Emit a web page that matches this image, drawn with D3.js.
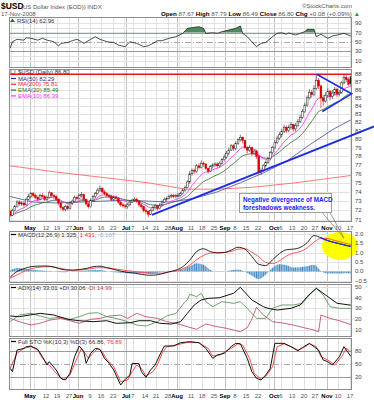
<!DOCTYPE html>
<html>
<head>
<meta charset="utf-8">
<title>$USD</title>
<script src="https://cdn.jsdelivr.net/npm/d3@7"></script>
<style>
  body { margin: 0; background: #fff; }
  text { font-family: "Liberation Sans", Arial, sans-serif; }
</style>
</head>
<body>
<svg id="chart" width="374" height="400"></svg>
<script>

// daily sessions 18-Apr-2008 .. 17-Nov-2008 (149 bars)
var closes = [
    71.5, 72.0, 72.4, 72.9, 72.7, 72.8, 72.6, 73.2, 73.5, 73.8,
    73.6, 73.4, 73.2, 73.6, 73.5, 73.2, 73.4, 73.9, 73.6, 73.5,
    73.2, 72.8, 72.3, 72.1, 72.4, 72.2, 72.8, 73.0, 73.4, 73.3,
    73.6, 73.7, 73.2, 72.7, 72.4, 73.1, 73.5, 73.8, 74.2, 74.4,
    74.0, 73.8, 73.6, 73.5, 73.2, 73.4, 73.3, 72.9, 72.6, 72.5,
    72.4, 72.6, 72.9, 73.1, 73.2, 73.0, 72.6, 72.4, 72.0, 71.9,
    71.6, 72.0, 72.3, 72.5, 72.2, 72.6, 72.9, 73.2, 73.3, 73.5,
    73.6, 73.5, 73.6, 73.6, 73.8, 74.2, 74.5, 75.1, 76.0, 76.4,
    76.3, 76.9, 76.7, 77.2, 77.1, 76.6, 76.3, 76.8, 77.0, 77.1,
    76.9, 77.2, 77.6, 77.9, 78.3, 78.7, 79.2, 78.9, 79.5, 79.9,
    80.2, 79.8, 79.0, 78.7, 79.0, 78.3, 78.6, 78.0, 76.2, 76.4,
    76.9, 77.3, 77.7, 78.4, 79.0, 79.6, 80.1, 80.5, 80.9, 81.4,
    81.0, 81.4, 81.7, 81.2, 81.6, 82.1, 82.6, 83.3, 84.1, 85.0,
    85.7, 85.4, 86.2, 87.2, 86.5, 85.0, 84.6, 85.3, 85.8, 85.2,
    85.6, 86.1, 85.5, 85.7, 86.9, 87.6, 87.3, 86.72, 86.80
];
var opens = [
    71.9, 71.5, 72.0, 72.4, 72.9, 72.7, 72.8, 72.6, 73.2, 73.5,
    73.8, 73.6, 73.4, 73.2, 73.6, 73.5, 73.2, 73.4, 73.9, 73.6,
    73.5, 73.2, 72.8, 72.3, 72.1, 72.4, 72.2, 72.8, 73.0, 73.4,
    73.3, 73.6, 73.7, 73.2, 72.7, 72.4, 73.1, 73.5, 73.8, 74.2,
    74.4, 74.0, 73.8, 73.6, 73.5, 73.2, 73.4, 73.3, 72.9, 72.6,
    72.5, 72.4, 72.6, 72.9, 73.1, 73.2, 73.0, 72.6, 72.4, 72.0,
    71.9, 71.6, 72.0, 72.3, 72.5, 72.2, 72.6, 72.9, 73.2, 73.3,
    73.5, 73.6, 73.5, 73.6, 73.6, 73.8, 74.2, 74.5, 75.1, 76.0,
    76.4, 76.3, 76.9, 76.7, 77.2, 77.1, 76.6, 76.3, 76.8, 77.0,
    77.1, 76.9, 77.2, 77.6, 77.9, 78.3, 78.7, 79.2, 78.9, 79.5,
    79.9, 80.2, 79.8, 79.0, 78.7, 79.0, 78.3, 78.6, 78.0, 76.2,
    76.4, 76.9, 77.3, 77.7, 78.4, 79.0, 79.6, 80.1, 80.5, 80.9,
    81.4, 81.0, 81.4, 81.7, 81.2, 81.6, 82.1, 82.6, 83.3, 84.1,
    85.0, 85.7, 85.4, 86.2, 87.2, 86.5, 85.0, 84.6, 85.3, 85.8,
    85.2, 85.6, 86.1, 85.5, 85.7, 86.9, 87.6, 87.3, 87.67
];
var highs = [
    72.1, 72.2, 72.6, 73.1, 73.1, 73.0, 73.0, 73.4, 73.8, 74.0,
    74.0, 73.8, 73.6, 73.8, 73.9, 73.7, 73.6, 74.1, 74.0, 73.8,
    73.7, 73.3, 72.9, 72.5, 72.6, 72.6, 73.0, 73.2, 73.6, 73.6,
    73.8, 74.0, 73.8, 73.3, 72.9, 73.3, 73.7, 74.0, 74.4, 74.7,
    74.5, 74.2, 74.0, 73.8, 73.7, 73.6, 73.6, 73.4, 73.0, 72.8,
    72.7, 72.8, 73.1, 73.3, 73.4, 73.4, 73.1, 72.8, 72.5, 72.2,
    72.0, 72.2, 72.5, 72.7, 72.6, 72.8, 73.1, 73.4, 73.5, 73.7,
    73.8, 73.8, 73.8, 73.9, 74.0, 74.4, 74.7, 75.3, 76.3, 76.6,
    76.6, 77.1, 77.2, 77.5, 77.4, 77.2, 76.7, 77.0, 77.2, 77.3,
    77.3, 77.4, 77.8, 78.2, 78.6, 79.0, 79.4, 79.4, 79.7, 80.1,
    80.5, 80.3, 79.9, 79.2, 79.3, 79.1, 78.8, 78.7, 78.1, 76.7,
    77.1, 77.5, 77.9, 78.6, 79.2, 79.9, 80.4, 80.8, 81.2, 81.7,
    81.6, 81.7, 82.0, 81.8, 81.9, 82.4, 82.9, 83.6, 84.4, 85.3,
    86.1, 86.0, 86.6, 88.0, 87.5, 86.7, 85.4, 85.7, 86.2, 86.0,
    86.0, 86.4, 86.3, 86.0, 87.1, 87.9, 87.9, 87.6, 87.79
];
var lows = [
    71.3, 71.4, 71.9, 72.3, 72.5, 72.5, 72.4, 72.5, 73.1, 73.3,
    73.4, 73.2, 73.0, 73.1, 73.3, 73.0, 73.0, 73.3, 73.4, 73.2,
    73.0, 72.6, 72.1, 71.9, 71.9, 72.0, 72.1, 72.6, 72.9, 73.1,
    73.2, 73.4, 73.0, 72.5, 72.2, 72.3, 73.0, 73.3, 73.7, 74.0,
    73.8, 73.6, 73.4, 73.3, 73.0, 73.0, 73.1, 72.7, 72.4, 72.3,
    72.2, 72.2, 72.5, 72.8, 72.9, 72.8, 72.4, 72.2, 71.8, 71.6,
    71.3, 71.5, 71.9, 72.1, 72.0, 72.1, 72.5, 72.8, 73.0, 73.2,
    73.3, 73.3, 73.3, 73.4, 73.5, 73.7, 74.0, 74.4, 74.9, 75.8,
    76.0, 76.1, 76.5, 76.6, 76.8, 76.4, 76.0, 76.2, 76.6, 76.8,
    76.7, 76.7, 77.0, 77.4, 77.7, 78.1, 78.6, 78.6, 78.7, 79.3,
    79.7, 79.5, 78.8, 78.3, 78.5, 78.0, 78.1, 77.7, 75.9, 75.9,
    76.2, 76.7, 77.1, 77.5, 78.2, 78.8, 79.4, 79.9, 80.2, 80.7,
    80.7, 80.8, 81.1, 80.9, 80.9, 81.4, 81.9, 82.4, 83.1, 83.9,
    84.8, 85.0, 85.2, 86.0, 86.1, 83.7, 84.0, 84.4, 85.0, 84.7,
    84.9, 85.3, 85.1, 85.2, 85.5, 86.7, 87.0, 86.5, 86.49
];

// moving averages: [session, value]
var ma50 = [[0, 73.5], [10, 72.9], [20, 72.8], [30, 72.9], [40, 73.0], [50, 73.1], [60, 73.0],
    [70, 72.9], [80, 73.3], [90, 74.0], [100, 75.0], [110, 76.1], [120, 77.4], [130, 79.3],
    [140, 81.1], [148, 82.29]];
var ma200 = [[0, 76.9], [20, 76.2], [40, 75.6], [60, 75.0], [76, 74.3], [90, 74.3], [105, 74.5],
    [124, 75.0], [148, 75.81]];

// calendar: mondays, first session of each month, axis labels
var weekDays = [1, 6, 11, 16, 21, 26, 30, 35, 40, 45, 50, 54, 59, 64, 69, 74, 79, 84, 89,
    94, 98, 103, 108, 113, 118, 123, 128, 133, 138, 143, 148];
var monthDays = [9, 30, 51, 73, 94, 115, 138];
var tickDays = [9, 16, 21, 26, 30, 35, 40, 45, 51, 54, 59, 64, 69, 73, 79, 84, 89, 94, 98,
    103, 108, 115, 118, 123, 128, 133, 138, 143, 148];
var tickLabels = ["May", "12", "19", "27", "Jun", "9", "16", "23", "Jul", "7", "14", "21", "28",
    "Aug", "11", "18", "25", "Sep", "8", "15", "22", "Oct", "6", "13", "20", "27", "Nov", "10", "17"];

// indicators: [session, value]
var rsi = [[0, 36.5], [1, 50.6], [3, 55.8], [6, 54], [7, 59], [9, 58], [12, 54], [14, 58], [16, 54],
    [19, 50.7], [21, 41.4], [22, 47], [25, 49], [27, 52.8], [29, 55.8], [31, 50.6], [32, 47],
    [35, 55.8], [37, 61.4], [39, 55.8], [42, 50.6], [45, 49], [47, 43.5], [50, 40], [52, 50.6],
    [55, 47], [58, 40], [60, 42], [62, 47], [64, 52.8], [66, 52.8], [69, 58], [72, 61.4],
    [75, 68.7], [77, 79.5], [79, 80.8], [82, 83], [84, 79.5], [85, 68.7], [88, 70], [90, 68.7],
    [92, 72.2], [95, 75.8], [98, 79.5], [100, 84.4], [101, 68.7], [103, 61.4], [105, 50.6],
    [107, 40], [109, 47], [111, 49], [114, 61.4], [116, 68.7], [118, 70], [120, 66.7], [121, 69.5],
    [124, 65], [126, 68.7], [128, 72.2], [129, 77.3], [132, 77.3], [133, 61.4], [135, 66.7],
    [138, 58], [140, 63], [142, 65], [145, 68.7], [148, 62.96]];

var macdDays = [0, 3, 6, 9, 12, 15, 18, 21, 24, 27, 30, 33, 36, 39, 42, 45, 48, 51, 54, 57, 60,
    63, 66, 69, 72, 75, 78, 81, 84, 87, 90, 93, 96, 99, 102, 105, 108, 111, 114, 117, 120, 123,
    126, 129, 132, 135, 138, 141, 144, 147, 148];
var macdLine = [-0.30, 0.00, 0.15, 0.25, 0.28, 0.29, 0.26, 0.16, 0.08, 0.07, 0.10, 0.16, 0.25,
    0.28, 0.20, 0.11, 0.02, -0.05, -0.09, -0.15, -0.20, -0.19, -0.12, -0.02, 0.07, 0.25, 0.60,
    1.05, 1.20, 1.05, 0.98, 1.00, 1.13, 1.28, 1.18, 0.80, 0.38, 0.31, 0.62, 0.95, 1.15, 1.18,
    1.27, 1.52, 1.90, 1.78, 1.63, 1.53, 1.44, 1.35, 1.325];
var macdSignal = [-0.36, -0.18, 0.00, 0.14, 0.21, 0.25, 0.25, 0.19, 0.12, 0.06, 0.07, 0.11, 0.17,
    0.20, 0.19, 0.15, 0.09, 0.04, 0.00, -0.05, -0.07, -0.10, -0.09, -0.02, 0.03, 0.14, 0.33,
    0.62, 0.85, 0.97, 1.00, 1.01, 1.06, 1.18, 1.20, 1.02, 0.78, 0.48, 0.42, 0.57, 0.82, 0.97,
    1.05, 1.25, 1.55, 1.76, 1.74, 1.64, 1.55, 1.45, 1.431];

var adx = [[0, 22.9], [4, 22.3], [13, 25.4], [19, 23.8], [25, 19.8], [30, 18.5], [36, 17.6],
    [42, 18.5], [46, 16.1], [52, 16.6], [56, 18.5], [61, 18.5], [65, 16.1], [70, 15.4], [74, 17.6],
    [77, 25.4], [80, 33.2], [83, 37.9], [86, 39.4], [91, 40], [97, 44.1], [100, 49.7], [105, 37.9],
    [110, 31.6], [112, 30.1], [116, 28.5], [122, 30.1], [126, 33.2], [129, 41], [133, 48.8],
    [138, 41], [142, 34.8], [148, 33.01]];
var plusDI = [[0, 17.6], [4, 23.8], [9, 25.4], [13, 22.9], [17, 20.7], [22, 21.7], [26, 19.8],
    [30, 22.3], [34, 25.4], [38, 26], [42, 22.3], [46, 20.7], [51, 17.6], [55, 14.5], [59, 13.6],
    [64, 17.6], [68, 22.9], [72, 25.4], [76, 36.3], [77, 37.9], [78, 43.2], [81, 41], [83, 44.1],
    [85, 36.3], [88, 31.6], [92, 36.3], [97, 34.8], [100, 36.3], [103, 30.1], [107, 20.7],
    [111, 20.7], [114, 30.1], [118, 33.2], [123, 33.2], [127, 34.8], [130, 42.5], [133, 48.8],
    [136, 42.5], [139, 31.6], [143, 30.1], [148, 30.06]];
var minusDI = [[0, 20.7], [4, 17.6], [9, 14.5], [13, 16.1], [17, 19], [22, 20.7], [26, 18.5],
    [30, 16.1], [35, 19.8], [39, 20.7], [43, 22.9], [48, 23.8], [51, 20.7], [55, 25.4], [59, 22.3],
    [64, 20.7], [68, 17.6], [72, 16.1], [77, 12.9], [81, 10.5], [85, 15.4], [90, 12.9], [94, 11.4],
    [97, 9.8], [100, 8.2], [103, 12], [105, 20], [107, 31], [110, 23.8], [114, 17.6], [119, 16.1],
    [123, 14.5], [127, 12.3], [132, 9.8], [134, 8.2], [135, 23.8], [139, 20.7], [143, 18.5],
    [148, 14.99]];

var stoK = [[0, 40.4], [1, 33], [3, 81], [6, 84.8], [7, 88.5], [9, 90], [12, 82.6], [14, 66.3],
    [16, 47.8], [17, 55.2], [20, 36.7], [22, 18.2], [24, 14.4], [26, 29.3], [28, 66.3], [30, 90],
    [32, 77.4], [33, 51.5], [35, 73.7], [37, 84.8], [39, 82.6], [41, 62.6], [43, 51.5], [45, 36.7],
    [48, 3.3], [50, 16], [52, 25.6], [53, 51.5], [56, 50.7], [57, 33], [59, 20.4], [61, 36.7],
    [63, 47.8], [65, 70], [67, 90], [71, 90], [74, 97.4], [78, 99.6], [82, 97.4], [85, 84.8],
    [88, 62.6], [90, 70], [93, 73.7], [96, 88.5], [98, 95.9], [100, 95], [103, 62.6], [105, 33],
    [107, 18.2], [109, 14.4], [111, 25.6], [113, 40.4], [115, 95.9], [119, 95.9], [122, 88.5],
    [125, 79.6], [127, 86.7], [130, 95.9], [132, 88.5], [134, 81], [136, 58.9], [138, 55],
    [140, 47.8], [143, 66], [145, 88.5], [148, 66.86]];
var stoD = [[0, 41], [3, 73.7], [6, 84.8], [9, 88.5], [12, 81], [14, 62.6], [17, 47.8], [20, 29.3],
    [23, 14.4], [26, 25.6], [29, 62.6], [31, 84.8], [34, 62.6], [36, 73.7], [38, 84.8], [40, 77.4],
    [42, 60.4], [45, 44], [48, 10.7], [51, 14.4], [53, 33], [55, 47.8], [57, 40.4], [59, 23.3],
    [62, 33], [64, 47.8], [66, 73.7], [68, 88.5], [72, 92.2], [77, 98], [82, 97.4], [86, 84.8],
    [88, 67.8], [91, 70], [96, 84.8], [99, 95], [101, 92.2], [104, 62.6], [106, 29.3], [109, 16],
    [111, 21.8], [114, 44], [116, 88.5], [119, 95], [122, 88.5], [125, 81], [127, 84.8], [130, 95],
    [133, 88.5], [135, 66.3], [138, 58.9], [141, 47.8], [144, 66.3], [146, 84.8], [148, 76.89]];

// hand-drawn annotations: [session, price]
var resistance = 88;
var supportLine = [[61.6, 71.53], [158.1, 81.5]];
var pennant = [[133.2, 88.0], [148.3, 85.5], [135.6, 83.3]];


var svg = d3.select("#chart");
var N = closes.length;
var left = 9, right = 352;
var x = d3.scaleLinear().domain([-0.5, N - 0.5]).range([left, right]);
var step = x(1) - x(0);

var yRsi = d3.scaleLinear().domain([-5.9, 103.8]).range([68, 17]);
var yPrice = d3.scaleLog().domain([70.79, 88.69]).range([222, 69]);
var yMacd = d3.scaleLinear().domain([-0.61, 2.14]).range([283, 231]);
var yAdx = d3.scaleLinear().domain([3.3, 52.8]).range([337, 284]);
var ySto = d3.scaleLinear().domain([-7.8, 107.8]).range([390, 338]);

function gx(day) {
    return Math.round(x(day) - step / 2) + 0.5;
}

function ema(vals, n) {
    var k = 2 / (n + 1), prev = vals[0];
    return vals.map(function (v, i) {
        prev = i === 0 ? v : v * k + prev * (1 - k);
        return prev;
    });
}

function pairLine(y) {
    return d3.line().x(function (d) { return x(d[0]); }).y(function (d) { return y(d[1]); });
}

function txt(g, xx, yy, s, size, color, weight, anchor) {
    return g.append("text").attr("x", xx).attr("y", yy).text(s)
        .attr("font-size", size).attr("fill", color || "#000")
        .attr("font-weight", weight || "normal")
        .attr("text-anchor", anchor || "start");
}

var defs = svg.append("defs");

// panel background + grid
function panel(top, bottom, y, ticks, strong, dashed, fmt) {
    var g = svg.append("g");
    g.append("rect").attr("x", left).attr("y", top).attr("width", right - left)
        .attr("height", bottom - top).attr("fill", "#fff");

    g.selectAll("line.wk").data(weekDays).join("line")
        .attr("x1", gx).attr("x2", gx).attr("y1", top).attr("y2", bottom)
        .attr("stroke", "#e2e2e2").attr("shape-rendering", "crispEdges");
    g.selectAll("line.mo").data(monthDays).join("line")
        .attr("x1", gx).attr("x2", gx).attr("y1", top).attr("y2", bottom)
        .attr("stroke", "#c2c2c2").attr("shape-rendering", "crispEdges");

    g.selectAll("line.h").data(ticks).join("line")
        .attr("x1", left).attr("x2", right)
        .attr("y1", function (d) { return Math.round(y(d)) + 0.5; })
        .attr("y2", function (d) { return Math.round(y(d)) + 0.5; })
        .attr("stroke", function (d) {
            if (strong.indexOf(d) >= 0) return "#9a9a9a";
            if (dashed.indexOf(d) >= 0) return "#aaaaaa";
            return "#e2e2e2";
        })
        .attr("stroke-dasharray", function (d) { return dashed.indexOf(d) >= 0 ? "6,2,1,2" : null; })
        .attr("shape-rendering", "crispEdges");

    return g;
}

function rightLabels(y, labels, fmt) {
    var g = svg.append("g");
    labels.forEach(function (v) {
        txt(g, 355, y(v) + 2, fmt ? fmt(v) : v, 6, "#444");
    });
}

function frame(top, bottom) {
    svg.append("rect").attr("x", left + 0.5).attr("y", top + 0.5)
        .attr("width", right - left - 1).attr("height", bottom - top - 1)
        .attr("fill", "none").attr("stroke", "#8c8c8c").attr("stroke-width", 1);
}

function legendKey(g, yy, color) {
    g.append("line").attr("x1", 11).attr("x2", 16).attr("y1", yy - 2).attr("y2", yy - 2)
        .attr("stroke", color).attr("stroke-width", 1.2);
}

// ---------------- header ----------------
var head = svg.append("g");
txt(head, 1, 9, "$USD", 8.5, "#000", "bold");
txt(head, 21, 9, "(US Dollar Index (EOD)) INDX", 6, "#555");
txt(head, 352, 8, "\u00a9StockCharts.com", 6, "#555", "normal", "end");
txt(head, 1, 15.5, "17-Nov-2008", 6, "#555");
var ohlc = head.append("text").attr("x", 161).attr("y", 15.5).attr("font-size", 6.2);
[["Open ", "87.67 "], ["High ", "87.79 "], ["Low ", "86.49 "], ["Close ", "86.80 "], ["Chg ", "+0.08 (+0.09%)"]]
    .forEach(function (p) {
        ohlc.append("tspan").attr("font-weight", "bold").attr("fill", "#000").text(p[0]);
        ohlc.append("tspan").attr("fill", "#555").text(p[1]);
    });
ohlc.append("tspan").attr("fill", "#2e8b3a").text(" \u25b2");

// ---------------- RSI ----------------
var rsiG = panel(17, 68, yRsi, [90, 80, 70, 60, 50, 40, 30, 20, 10], [70, 30], [50]);
defs.append("clipPath").attr("id", "rsiClip").append("rect")
    .attr("x", left).attr("y", 17).attr("width", right - left).attr("height", yRsi(70) - 17);
rsiG.append("path").datum(rsi)
    .attr("d", d3.area().x(function (d) { return x(d[0]); })
        .y0(yRsi(70)).y1(function (d) { return yRsi(d[1]); }))
    .attr("clip-path", "url(#rsiClip)")
    .attr("fill", "#4f8a5c");
rsiG.append("path").datum(rsi).attr("d", pairLine(yRsi))
    .attr("fill", "none").attr("stroke", "#222").attr("stroke-width", 0.8);
rsiG.append("path").attr("d", "M10,22 L12.5,18.5 L15,22 Z").attr("fill", "#2e6b3a");
txt(rsiG, 17, 22.5, "RSI(14) 62.96", 6, "#333");
rightLabels(yRsi, [90, 70, 50, 30, 10]);
frame(17, 68);

// ---------------- price ----------------
var priceTicks = d3.range(71, 89);
var pg = panel(69, 222, yPrice, priceTicks, [], []);
var ema10 = ema(closes, 10);
var ema20 = ema(closes, 20);
var dayLine = function (vals) {
    return d3.line().x(function (d, i) { return x(i); }).y(function (d) { return yPrice(d); })(vals);
};

pg.append("path").datum(ma200).attr("d", pairLine(yPrice))
    .attr("fill", "none").attr("stroke", "#ff6a6a").attr("stroke-width", 0.9);
pg.append("path").datum(ma50).attr("d", pairLine(yPrice))
    .attr("fill", "none").attr("stroke", "#5a5ab0").attr("stroke-width", 0.9);
pg.append("path").attr("d", dayLine(ema20))
    .attr("fill", "none").attr("stroke", "#3d7a3d").attr("stroke-width", 0.9);
pg.append("path").attr("d", dayLine(ema10))
    .attr("fill", "none").attr("stroke", "#ff3cff").attr("stroke-width", 0.9);

// candles
var idx = d3.range(N);
function candleColor(i) {
    var prev = i ? closes[i - 1] : opens[i];
    return closes[i] < prev ? "#d60000" : "#222";
}
pg.selectAll("line.wick").data(idx).join("line")
    .attr("x1", function (i) { return x(i); }).attr("x2", function (i) { return x(i); })
    .attr("y1", function (i) { return yPrice(highs[i]); })
    .attr("y2", function (i) { return yPrice(lows[i]); })
    .attr("stroke", candleColor).attr("stroke-width", 0.6);
pg.selectAll("rect.body").data(idx).join("rect")
    .attr("x", function (i) { return x(i) - 0.9; })
    .attr("width", 1.8)
    .attr("y", function (i) { return yPrice(Math.max(opens[i], closes[i])); })
    .attr("height", function (i) {
        return Math.max(0.8, Math.abs(yPrice(opens[i]) - yPrice(closes[i])));
    })
    .attr("fill", function (i) { return closes[i] < opens[i] ? candleColor(i) : "#fff"; })
    .attr("stroke", candleColor).attr("stroke-width", 0.5);

// resistance + hand drawn lines
pg.append("line").attr("x1", left).attr("x2", right)
    .attr("y1", yPrice(resistance)).attr("y2", yPrice(resistance))
    .attr("stroke", "#e8141c").attr("stroke-width", 1.4);

// legend
txt(pg, 18, 74, "$USD (Daily) 86.80", 6, "#333");
pg.append("rect").attr("x", 11).attr("y", 69.8).attr("width", 4).attr("height", 3.5)
    .attr("fill", "#fff").attr("stroke", "#444").attr("stroke-width", 0.6);
[["MA(50) 82.29", "#2a2a8c", 80.5], ["MA(200) 75.81", "#ff2a2a", 86.3],
    ["EMA(20) 85.49", "#2e6a2e", 92.1], ["EMA(10) 86.39", "#ff2aff", 97.9]]
    .forEach(function (l) {
        legendKey(pg, l[2], l[1]);
        txt(pg, 18, l[2], l[0], 6, l[1]);
    });
rightLabels(yPrice, priceTicks);
frame(69, 222);

// trendlines drawn over the frame (they run past the right edge)
svg.append("path").datum(supportLine).attr("d", pairLine(yPrice))
    .attr("fill", "none").attr("stroke", "#1c2ee0").attr("stroke-width", 1.8);
svg.append("path").datum(pennant).attr("d", pairLine(yPrice))
    .attr("fill", "none").attr("stroke", "#1c2ee0").attr("stroke-width", 1.6);

// ---------------- date axes ----------------
function dateRow(yy) {
    var g = svg.append("g");
    tickDays.forEach(function (d, k) {
        var isMonth = monthDays.indexOf(d) >= 0;
        txt(g, gx(d) - 0.5, yy, tickLabels[k], 6, isMonth ? "#000" : "#555",
            isMonth ? "bold" : "normal", "middle");
    });
}
dateRow(229.5);
dateRow(397.5);

// ---------------- MACD ----------------
var mg = panel(231, 283, yMacd, [2.0, 1.5, 1.0, 0.5, 0.0, -0.5], [], []);
var macdPts = macdDays.map(function (d, i) { return [d, macdLine[i]]; });
var sigPts = macdDays.map(function (d, i) { return [d, macdSignal[i]]; });
var histPts = macdDays.map(function (d, i) { return [d, macdLine[i] - macdSignal[i]]; });

var stripe = defs.append("pattern").attr("id", "histStripe")
    .attr("patternUnits", "userSpaceOnUse")
    .attr("x", left).attr("y", 0).attr("width", step).attr("height", 400);
stripe.append("rect").attr("x", 0.35).attr("y", 0).attr("width", step - 0.7).attr("height", 400)
    .attr("fill", "#3c88c6");
mg.append("path").datum(histPts)
    .attr("d", d3.area().curve(d3.curveMonotoneX)
        .x(function (d) { return x(d[0]); })
        .y0(yMacd(0)).y1(function (d) { return yMacd(d[1]); }))
    .attr("fill", "url(#histStripe)");

// highlight ellipse
mg.append("ellipse").attr("cx", x(143.3)).attr("cy", yMacd(1.35))
    .attr("rx", 18).attr("ry", 14).attr("fill", "#ffff00");

mg.append("path").datum(sigPts).attr("d", pairLine(yMacd).curve(d3.curveMonotoneX))
    .attr("fill", "none").attr("stroke", "#ff4a4a").attr("stroke-width", 0.9);
mg.append("path").datum(macdPts).attr("d", pairLine(yMacd).curve(d3.curveMonotoneX))
    .attr("fill", "none").attr("stroke", "#111").attr("stroke-width", 0.9);
mg.append("path").datum(macdPts.filter(function (d) { return d[0] >= 135; }))
    .attr("d", pairLine(yMacd).curve(d3.curveMonotoneX))
    .attr("fill", "none").attr("stroke", "#2233d0").attr("stroke-width", 1.3);

legendKey(mg, 236.5, "#000");
var ml = mg.append("text").attr("x", 18).attr("y", 236.5).attr("font-size", 6);
ml.append("tspan").attr("fill", "#333").text("MACD(12,26,9) 1.325, ");
ml.append("tspan").attr("fill", "#ff3030").text("1.431");
ml.append("tspan").attr("fill", "#333").text(", ");
ml.append("tspan").attr("fill", "#7fb0e0").text("-0.107");
rightLabels(yMacd, [2.0, 1.5, 1.0, 0.5, 0.0, -0.5], d3.format(".1f"));
frame(231, 283);

// ---------------- ADX ----------------
var ag = panel(284, 337, yAdx, [50, 40, 30, 20, 10], [], []);
ag.append("path").datum(minusDI).attr("d", pairLine(yAdx))
    .attr("fill", "none").attr("stroke", "#b8405a").attr("stroke-width", 0.8);
ag.append("path").datum(plusDI).attr("d", pairLine(yAdx))
    .attr("fill", "none").attr("stroke", "#4a8a4a").attr("stroke-width", 0.8);
ag.append("path").datum(adx).attr("d", pairLine(yAdx))
    .attr("fill", "none").attr("stroke", "#111").attr("stroke-width", 1);
legendKey(ag, 289.5, "#000");
var al = ag.append("text").attr("x", 18).attr("y", 289.5).attr("font-size", 6);
al.append("tspan").attr("fill", "#333").text("ADX(14) 33.01 +DI 30.06 ");
al.append("tspan").attr("fill", "#c0405a").text("-DI 14.99");
rightLabels(yAdx, [50, 40, 30, 20, 10]);
frame(284, 337);

// ---------------- Full stochastics ----------------
var sg = panel(338, 390, ySto, [80, 50, 20], [80, 20], [50]);
sg.append("path").datum(stoD).attr("d", pairLine(ySto))
    .attr("fill", "none").attr("stroke", "#ff3a3a").attr("stroke-width", 0.9);
sg.append("path").datum(stoK).attr("d", pairLine(ySto))
    .attr("fill", "none").attr("stroke", "#111").attr("stroke-width", 1);
legendKey(sg, 343.5, "#000");
var sl = sg.append("text").attr("x", 18).attr("y", 343.5).attr("font-size", 6);
sl.append("tspan").attr("fill", "#333").text("Full STO %K(10,3) %D(3) 66.86, ");
sl.append("tspan").attr("fill", "#ff3030").text("76.89");
rightLabels(ySto, [80, 50, 20]);
frame(338, 390);

// ---------------- callout ----------------
var co = svg.append("g");
co.append("path").attr("d", "M322,212.5 L344,238 L330,212.5")
    .attr("fill", "none").attr("stroke", "#777").attr("stroke-width", 0.7);
co.append("rect").attr("x", 239.5).attr("y", 193.5).attr("width", 92).attr("height", 19)
    .attr("fill", "#fff").attr("stroke", "#888").attr("stroke-width", 0.8);
txt(co, 243, 201.5, "Negative divergence of MACD", 6.3, "#1a1aff", "bold");
txt(co, 243, 209.5, "foreshadows weakness.", 6.3, "#1a1aff", "bold");

</script>
</body>
</html>
